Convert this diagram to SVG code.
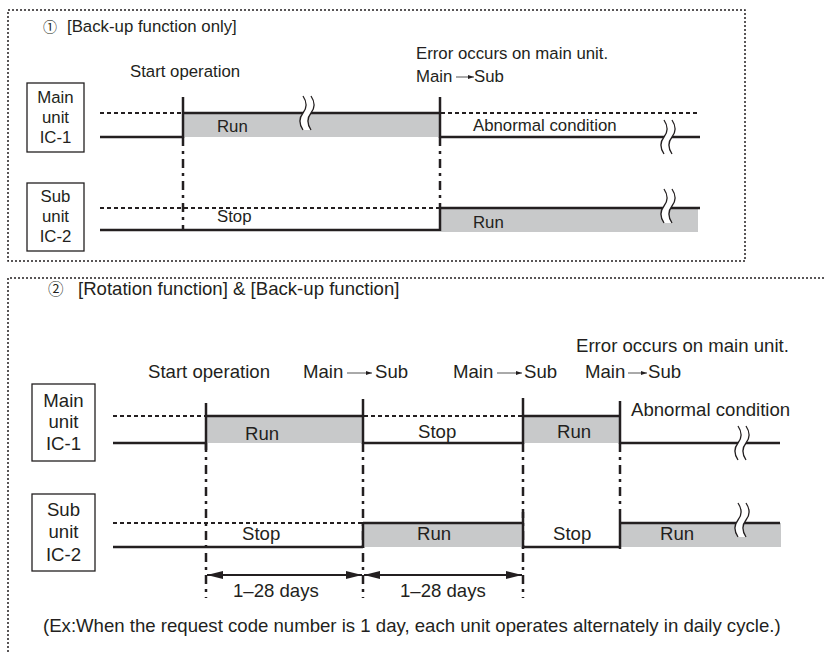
<svg xmlns="http://www.w3.org/2000/svg" xmlns:xlink="http://www.w3.org/1999/xlink" width="825" height="654" viewBox="0 0 825 654">
<style>
  .t1 { font-family: "Liberation Sans", Arial, sans-serif; font-size: 16.8px; fill: #231f20; }
  .t2 { font-family: "Liberation Sans", Arial, sans-serif; font-size: 18.6px; fill: #231f20; }
  .circ { font-family: "Noto Sans CJK JP", "DejaVu Sans", sans-serif; }
  .mid { text-anchor: middle; }
  .solid { stroke: #231f20; stroke-width: 2.5; fill: none; }
  .dot { stroke: #231f20; stroke-width: 2.2; stroke-dasharray: 4 3; fill: none; }
  .guide { stroke: #231f20; stroke-width: 2.5; stroke-dasharray: 9 5 3 5; fill: none; }
  .run { fill: #c8c9ca; }
  .box { fill: #ffffff; stroke: #231f20; stroke-width: 1.3; }
  .frame { fill: none; stroke: #231f20; stroke-width: 1.5; stroke-dasharray: 2 2; }
  .thin { stroke: #555; stroke-width: 1; fill: none; }
  .dim { stroke: #231f20; stroke-width: 1.8; fill: none; marker-start: url(#ah); marker-end: url(#ah); }
</style>
<defs>
  <marker id="ah" viewBox="0 0 16 8" refX="16" refY="4" markerWidth="16" markerHeight="8" markerUnits="userSpaceOnUse" orient="auto-start-reverse">
    <path d="M0,0 L16,4 L0,8 Z" fill="#231f20"/>
  </marker>
  <marker id="sa" viewBox="0 0 6 4" refX="6" refY="2" markerWidth="6" markerHeight="4" markerUnits="userSpaceOnUse" orient="auto">
    <path d="M0,0 L6,2 L0,4 Z" fill="#231f20"/>
  </marker>
  <g id="brk">
    <path d="M-1,-17 C3,-11 3,-5 -1,0 C-5,5 -5,11 -1,17 L7,17 C3,11 3,5 7,0 C11,-5 11,-11 7,-17 Z" fill="#ffffff"/>
    <path d="M-1,-17 C3,-11 3,-5 -1,0 C-5,5 -5,11 -1,17 M7,-17 C11,-11 11,-5 7,0 C3,5 3,11 7,17" stroke="#231f20" stroke-width="1.3" fill="none"/>
  </g>
</defs>
<rect width="825" height="654" fill="#ffffff"/>

<!-- Panel 1 -->
<g id="panel1">
  <rect class="frame" x="8" y="10" width="737" height="251"/>
  <text class="t1" y="32"><tspan class="circ" x="43" font-size="14">①</tspan><tspan x="67">[Back-up function only]</tspan></text>
  <text class="t1" x="130" y="77">Start operation</text>
  <text class="t1" x="416" y="59">Error occurs on main unit.</text>
  <text class="t1" x="416" y="82">Main</text>
  <line class="thin" x1="456" y1="77" x2="474" y2="77" marker-end="url(#sa)"/>
  <text class="t1" x="474" y="82">Sub</text>
</g>
<g id="p1-main-box">
  <rect class="box" x="27" y="83" width="57" height="69"/>
  <text class="t1 mid" x="55.5" y="103">Main</text>
  <text class="t1 mid" x="55.5" y="123">unit</text>
  <text class="t1 mid" x="55.5" y="143">IC-1</text>
</g>
<g id="p1-sub-box">
  <rect class="box" x="27" y="183" width="57" height="68"/>
  <text class="t1 mid" x="55.5" y="202">Sub</text>
  <text class="t1 mid" x="55.5" y="222">unit</text>
  <text class="t1 mid" x="55.5" y="242">IC-2</text>
</g>
<g id="p1-connectors">
  <line class="guide" x1="183" y1="137" x2="183" y2="230"/>
  <line class="guide" x1="440" y1="137" x2="440" y2="208"/>
  <!-- main -->
  <rect class="run" x="183" y="113" width="257" height="24"/>
  <line class="dot" x1="100" y1="113" x2="183" y2="113"/>
  <line class="solid" x1="100" y1="137" x2="183" y2="137"/>
  <line class="solid" x1="183" y1="97" x2="183" y2="138"/>
  <line class="solid" x1="183" y1="113" x2="440" y2="113"/>
  <line class="solid" x1="440" y1="97" x2="440" y2="138"/>
  <line class="dot" x1="441" y1="113" x2="700" y2="113"/>
  <line class="solid" x1="440" y1="137" x2="700" y2="137"/>
  <!-- sub -->
  <rect class="run" x="440" y="208" width="258" height="24"/>
  <line class="dot" x1="100" y1="208" x2="440" y2="208"/>
  <line class="solid" x1="100" y1="230" x2="440" y2="230"/>
  <line class="solid" x1="440" y1="207" x2="440" y2="231"/>
  <line class="solid" x1="440" y1="208" x2="700" y2="208"/>
  <use xlink:href="#brk" x="304" y="113"/>
  <use xlink:href="#brk" x="665" y="137"/>
  <use xlink:href="#brk" x="665" y="206"/>
  <text class="t1" x="217" y="132">Run</text>
  <text class="t1" x="473" y="131">Abnormal condition</text>
  <text class="t1" x="217" y="222">Stop</text>
  <text class="t1" x="473" y="228">Run</text>
</g>

<!-- Panel 2 -->
<g id="panel2">
  <path class="frame" d="M8,660 V278 H830"/>
  <text class="t2" y="295" font-size="19.2"><tspan class="circ" x="48" font-size="15.5">②</tspan><tspan x="78">[Rotation function] &amp; [Back-up function]</tspan></text>
  <text class="t2" x="576" y="352">Error occurs on main unit.</text>
  <text class="t2" x="148" y="378">Start operation</text>
  <text class="t2" x="303" y="378">Main</text>
  <line class="thin" x1="347" y1="373" x2="372" y2="373" marker-end="url(#sa)"/>
  <text class="t2" x="375" y="378">Sub</text>
  <text class="t2" x="453" y="378">Main</text>
  <line class="thin" x1="497" y1="373" x2="522" y2="373" marker-end="url(#sa)"/>
  <text class="t2" x="524" y="378">Sub</text>
  <text class="t2" x="585" y="378">Main</text>
  <line class="thin" x1="628" y1="373" x2="647" y2="373" marker-end="url(#sa)"/>
  <text class="t2" x="648" y="378">Sub</text>
  <text class="t2" x="43" y="632">(Ex:When the request code number is 1 day, each unit operates alternately in daily cycle.)</text>
</g>
<g id="p2-main-box">
  <rect class="box" x="32" y="384" width="63" height="77"/>
  <text class="t2 mid" x="63.5" y="407">Main</text>
  <text class="t2 mid" x="63.5" y="428">unit</text>
  <text class="t2 mid" x="63.5" y="450">IC-1</text>
</g>
<g id="p2-sub-box">
  <rect class="box" x="32" y="494" width="63" height="77"/>
  <text class="t2 mid" x="63.5" y="516">Sub</text>
  <text class="t2 mid" x="63.5" y="538">unit</text>
  <text class="t2 mid" x="63.5" y="561">IC-2</text>
</g>
<g id="p2-connectors">
  <line class="guide" x1="206" y1="443" x2="206" y2="598"/>
  <line class="guide" x1="363" y1="443" x2="363" y2="598"/>
  <line class="guide" x1="523" y1="443" x2="523" y2="598"/>
  <line class="guide" x1="620" y1="443" x2="620" y2="510"/>
  <!-- main -->
  <rect class="run" x="206" y="416" width="157" height="27"/>
  <rect class="run" x="523" y="416" width="97" height="27"/>
  <line class="dot" x1="113" y1="416" x2="206" y2="416"/>
  <line class="solid" x1="113" y1="443" x2="206" y2="443"/>
  <line class="solid" x1="206" y1="403" x2="206" y2="450"/>
  <line class="solid" x1="206" y1="416" x2="363" y2="416"/>
  <line class="solid" x1="363" y1="399" x2="363" y2="444"/>
  <line class="dot" x1="364" y1="416" x2="523" y2="416"/>
  <line class="solid" x1="363" y1="443" x2="523" y2="443"/>
  <line class="solid" x1="523" y1="398" x2="523" y2="444"/>
  <line class="solid" x1="523" y1="416" x2="620" y2="416"/>
  <line class="solid" x1="620" y1="401" x2="620" y2="444"/>
  <line class="solid" x1="620" y1="443" x2="780" y2="443"/>
  <!-- sub -->
  <rect class="run" x="363" y="523" width="160" height="24"/>
  <rect class="run" x="620" y="523" width="161" height="24"/>
  <line class="dot" x1="113" y1="523" x2="363" y2="523"/>
  <line class="solid" x1="113" y1="547" x2="363" y2="547"/>
  <line class="solid" x1="363" y1="522" x2="363" y2="548"/>
  <line class="solid" x1="363" y1="523" x2="523" y2="523"/>
  <line class="solid" x1="523" y1="512" x2="523" y2="549"/>
  <line class="solid" x1="523" y1="547" x2="620" y2="547"/>
  <line class="solid" x1="620" y1="510" x2="620" y2="549"/>
  <line class="solid" x1="620" y1="523" x2="780" y2="523"/>
  <use xlink:href="#brk" x="739" y="443"/>
  <use xlink:href="#brk" x="739" y="520"/>
  <!-- dimensions -->
  <line class="dim" x1="207" y1="575" x2="362" y2="575"/>
  <line class="dim" x1="364" y1="575" x2="522" y2="575"/>
  <text class="t2" x="233" y="597">1–28 days</text>
  <text class="t2" x="400" y="597">1–28 days</text>
  <!-- labels -->
  <text class="t2" x="245" y="440">Run</text>
  <text class="t2" x="418" y="438">Stop</text>
  <text class="t2" x="557" y="438">Run</text>
  <text class="t2" x="631" y="416">Abnormal condition</text>
  <text class="t2" x="242" y="540">Stop</text>
  <text class="t2" x="417" y="540">Run</text>
  <text class="t2" x="553" y="540">Stop</text>
  <text class="t2" x="660" y="540">Run</text>
</g>
</svg>
